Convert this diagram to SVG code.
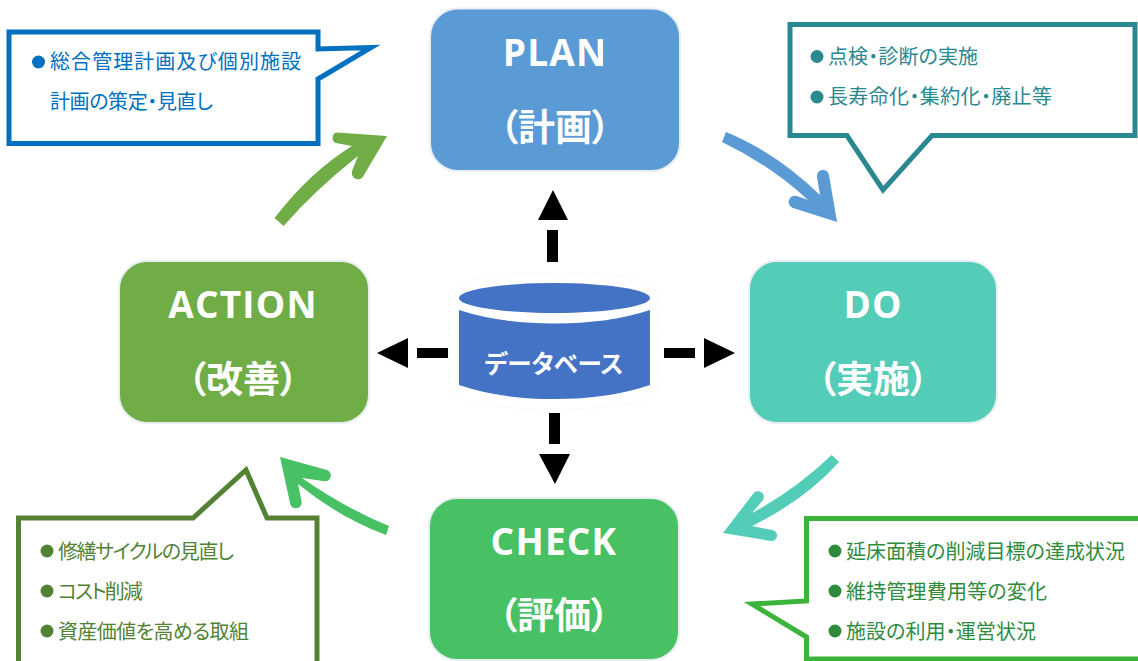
<svg xmlns="http://www.w3.org/2000/svg" width="1138" height="661" viewBox="0 0 1138 661">
<style>
text{font-family:"Noto Sans CJK JP","Noto Sans",sans-serif;font-feature-settings:"palt"}
.box{stroke:#e9eef2;stroke-width:2}
.title{font-size:37px;font-weight:700;fill:#fff;text-anchor:middle;dominant-baseline:central}
.latin{font-family:"Open Sans","Noto Sans",sans-serif;letter-spacing:1.200px}
.note{font-size:20px;dominant-baseline:central}
.call{fill:#fff;stroke-width:5;stroke-linejoin:miter;stroke-miterlimit:12}
</style>
<rect width="1138" height="661" fill="#fff"/>
<g id="connectors">
<path fill="#70ad47" d="M274.5,218 Q310,172 352,146 L336,143 A5.5,5.5 0 0 1 337,132.5 L387,136 L364,175 A5.5,5.5 0 0 1 352,171 L358,156 Q315,190 283.6,226 Z"/>
<path fill="#5b9bd5" d="M726,132 Q775,152 820,195 L817,177 A6,6 0 0 1 829,175 L837,222 L793,208 A6,6 0 0 1 797,196 L808,200 Q770,165 722,142 Z"/>
<path fill="#53ccb8" d="M831.7,455 Q795,490 752,513 L763,500 A5.5,5.5 0 0 0 753,494 L723,533 L771,541 A5.5,5.5 0 0 0 772,530 L752,526 Q805,500 839,462 Z"/>
<path fill="#48c064" d="M389,526 Q345,508 302,478 L323,481 A5.5,5.5 0 0 0 327,470 L280,457 L290,503 A5.5,5.5 0 0 0 301.7,502 L298,484 Q340,518 386,535 Z"/>
<g fill="#000">
<rect x="547" y="230" width="11" height="32"/><path d="M553,190 L568,220 L538,220 Z"/>
<rect x="417" y="348" width="31" height="10"/><path d="M377,353 L408,338 L408,368 Z"/>
<rect x="664" y="348" width="31" height="10"/><path d="M735,353 L704,338 L704,368 Z"/>
<rect x="549" y="413" width="11" height="31"/><path d="M555,484 L539,454 L570,454 Z"/>
</g>
</g>
<g id="note-plan">
<path class="call" stroke="#0070c0" d="M9,32 H318 V49 L371,47.5 L318,79 V143.500 H9 Z"/>
<circle cx="38.500" cy="62" r="6.500" fill="#0070c0"/>
<text class="note" x="50" y="60" textLength="251" fill="#0070c0">総合管理計画及び個別施設</text>
<text class="note" x="50" y="100" textLength="163" fill="#0070c0">計画の策定・見直し</text>
</g>
<g id="note-do">
<path class="call" stroke="#2a8890" d="M790,24.500 H1135 V135.500 H932 L883,190 L847,135.500 H790 Z"/>
<circle cx="817" cy="56.500" r="6.500" fill="#2a8890"/>
<circle cx="817" cy="97" r="6.500" fill="#2a8890"/>
<text class="note" x="828" y="55" textLength="150" fill="#2a8890">点検・診断の実施</text>
<text class="note" x="828" y="95" textLength="224" fill="#2a8890">長寿命化・集約化・廃止等</text>
</g>
<g id="note-action">
<path class="call" stroke="#548235" d="M18.500,670 V518 H193 L246,470 L267,518 H317 V670"/>
<circle cx="47" cy="551" r="6.500" fill="#548235"/>
<circle cx="47" cy="591" r="6.500" fill="#548235"/>
<circle cx="47" cy="631" r="6.500" fill="#548235"/>
<text class="note" x="58" y="550" textLength="176" fill="#548235">修繕サイクルの見直し</text>
<text class="note" x="58" y="590" textLength="85" fill="#548235">コスト削減</text>
<text class="note" x="58" y="630" textLength="191" fill="#548235">資産価値を高める取組</text>
</g>
<g id="note-check">
<path class="call" stroke="#3cb43c" d="M1145,518.500 H806.500 V601 L752,604 L806.500,637 V659 H1145"/>
<circle cx="835" cy="551" r="6.500" fill="#2e8b3e"/>
<circle cx="835" cy="591" r="6.500" fill="#2e8b3e"/>
<circle cx="835" cy="631" r="6.500" fill="#2e8b3e"/>
<text class="note" x="846" y="550" textLength="279" fill="#2e8b3e">延床面積の削減目標の達成状況</text>
<text class="note" x="846" y="590" textLength="201" fill="#2e8b3e">維持管理費用等の変化</text>
<text class="note" x="846" y="630" textLength="190" fill="#2e8b3e">施設の利用・運営状況</text>
</g>
<g id="plan">
<rect class="box" x="430" y="8.500" width="250" height="162.500" rx="28" fill="#5b9bd5"/>
<text class="title latin" x="555" y="51">PLAN</text>
<text class="title" x="555" y="125">（計画）</text>
</g>
<g id="do">
<rect class="box" x="749" y="261" width="248" height="162" rx="28" fill="#53ccb8"/>
<text class="title latin" x="873" y="303">DO</text>
<text class="title" x="873" y="377">（実施）</text>
</g>
<g id="check">
<rect class="box" x="429" y="498" width="250" height="162" rx="28" fill="#48c064"/>
<text class="title latin" x="554" y="540">CHECK</text>
<text class="title" x="554" y="613">（評価）</text>
</g>
<g id="action">
<rect class="box" x="119" y="261" width="250" height="162" rx="28" fill="#70ad47"/>
<text class="title latin" x="243" y="303">ACTION</text>
<text class="title" x="243" y="377">（改善）</text>
</g>
<g id="database">
<path fill="none" stroke="#f3f3f3" stroke-dasharray="3 3" d="M449,296 Q449,273 554,273 Q658,273 658,296 V386 Q658,409 554,409 Q449,409 449,386 Z"/>
<ellipse cx="554.500" cy="298" rx="95.500" ry="15" fill="#4472c4"/>
<path fill="#4472c4" d="M459,310 Q500,323.500 554.500,323.500 Q609,323.500 650,310 V385 Q609,399 554.500,399 Q500,399 459,385 Z"/>
<text x="554" y="362" font-size="24.500" font-weight="700" fill="#fff" text-anchor="middle" dominant-baseline="central">データベース</text>
</g>
</svg>
